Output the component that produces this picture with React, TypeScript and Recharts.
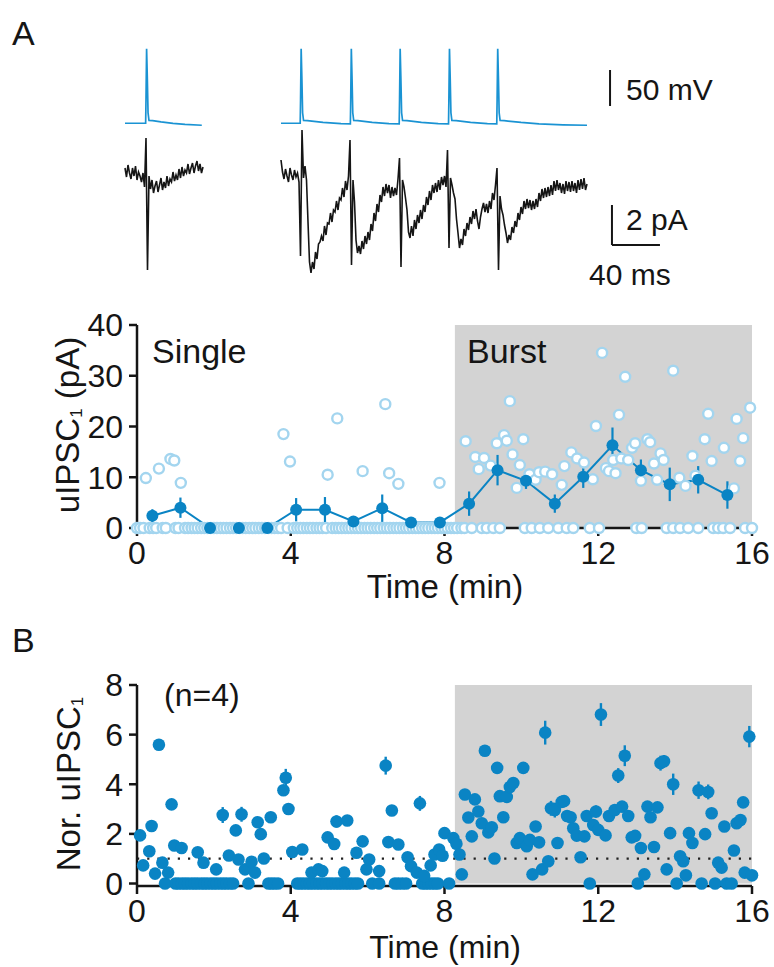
import React from 'react';
import {
  ComposedChart,
  Line,
  Scatter,
  XAxis,
  YAxis,
  ReferenceArea,
  ReferenceLine,
  ErrorBar,
} from 'recharts';

const FONT = '"Liberation Sans", Arial, Helvetica, sans-serif';
const BLUE = '#0a84c4';
const TRACE_BLUE = '#1a93d3';
const LIGHT = '#a3d5ef';
const INK = '#151515';
const SHADE = '#d3d3d3';

// ---------- Panel A: example sweeps ----------
const SAMPLE_MS = 1.25;
const SINGLE_OFFSET_MS = 0;
const BURST_OFFSET_MS = 130;

// presynaptic membrane potential [ms, mV]
const blueSingle: [number, number][] = [
  [0, -62.6], [17.2, -62.6], [17.5, -30], [18.0, 41], [18.6, 0], [19.2, -48], [20.0, -58.8],
  [23, -59], [30, -60.8], [40, -62.8], [50, -64.2], [64, -65.4],
];
const blueBurst: [number, number][] = [
  [0, -62.6], [16.0, -62.6], [16.3, -30], [16.8, 41], [17.4, 0], [18.0, -48], [18.8, -58.8],
  [22, -59], [35, -61.5], [50, -63.2], [57.8, -63.6], [58.1, -30], [58.6, 41], [59.2, 0], [59.8, -48], [60.6, -58.8],
  [64, -59], [76, -61.5], [90, -63.2], [98.5, -63.6], [98.8, -30], [99.3, 41], [99.9, 0], [100.5, -48], [101.3, -58.8],
  [105, -59], [117, -61.5], [131, -63.2], [139.6, -63.6], [139.9, -30], [140.4, 41], [141.0, 0], [141.6, -48], [142.4, -58.8],
  [146, -59], [158, -61.5], [172, -63.2], [179.8, -63.6], [180.1, -30], [180.6, 41], [181.2, 0], [181.8, -48], [182.6, -58.8],
  [186, -59], [200, -61.5], [215, -63.5], [235, -64.8], [255, -65.4],
];

// postsynaptic current, sampled every SAMPLE_MS (pA)
const blackSingle: number[] = [
  0.1, -0.35, 0.25, -0.15, -0.45, 0.1, -0.3, 0.2, -0.5, -0.1, -0.3, -0.6, -0.15, -0.85,
  1.6, -5.0, -0.3, -0.95, -0.5, -1.15, -0.8, -0.55, -1.1, -0.75, -0.4, -1.0, -0.6, -0.9,
  -0.3, -0.8, -0.45, -0.6, -0.1, -0.55, -0.25, -0.5, 0.05, -0.4, 0.15, -0.3, 0.0, -0.15,
  0.3, -0.2, 0.1, 0.35, -0.15, 0.2, 0.45, -0.05, 0.3, -0.15, 0.15,
];
const blackBurst: number[] = [
  0.5, -0.1, -0.45, 0.05, -0.3, -0.6, 0.1, -0.25, -0.5, 0.0, -0.35, -0.15, -0.6, -4.3, 2.0,
  -0.4, 0.2, -0.5, -2.6, -4.6, -5.15, -4.6, -4.95, -4.1, -4.45, -3.7, -3.6, -3.3, -3.55, -2.8,
  -3.25, -2.65, -2.7, -2.15, -2.6, -2.0, -2.1, -1.55, -2.0, -1.4, -1.5, -0.9, -1.35, -0.55, -1.0,
  -0.3, 1.5, -4.75, -0.5, -1.6, -3.5, -4.15, -3.8, -4.2, -3.55, -3.95, -3.3, -3.7, -3.1, -3.5,
  -2.7, -3.05, -2.15, -2.55, -1.7, -2.1, -1.25, -1.6, -0.85, -1.3, -0.7, -1.15, -0.75, -1.4, -0.85,
  -1.3, -0.9, -1.25, -0.45, 0.6, -4.85, -0.5, -0.85, -1.4, -2.0, -3.1, -3.4, -2.8, -3.3, -2.5,
  -2.95, -2.25, -2.65, -2.0, -2.45, -1.75, -2.1, -1.35, -1.75, -1.05, -1.5, -0.75, -1.15, -0.65, -1.1,
  -0.5, -1.0, -0.35, -0.75, -0.3, -0.85, 1.0, -3.9, -0.4, -0.75, -1.15, -1.45, -2.45, -3.15, -3.9,
  -3.45, -3.75, -2.95, -3.3, -2.65, -3.0, -2.35, -2.7, -2.05, -2.45, -1.95, -2.55, -2.95, -2.35, -1.95,
  -1.65, -2.1, -1.7, -2.15, -1.55, -1.95, -1.15, -1.5, -0.75, 0.1, -5.0, -1.3, -1.95, -2.25, -2.75,
  -3.15, -3.65, -3.25, -3.5, -2.85, -3.15, -2.55, -2.85, -2.15, -2.5, -1.85, -2.2, -1.55, -1.95, -1.45,
  -1.9, -1.5, -2.0, -1.55, -1.95, -1.45, -1.85, -1.15, -1.55, -0.95, -1.4, -0.9, -1.35, -0.85, -1.3,
  -0.75, -1.25, -0.55, -1.05, -0.5, -1.0, -0.65, -1.15, -0.7, -1.2, -0.55, -1.05, -0.6, -1.1, -0.55,
  -1.05, -0.65, -1.15, -0.5, -1.0, -0.45, -0.95, -0.4, -1.0, -0.7,
];

// ---------- Panel A: single-cell time course ----------
const BURST_START_MIN = 8.27;
const singleCellNonzero: [number, number][] = [
  [0.23, 9.85], [0.57, 11.7], [0.87, 13.6], [0.97, 13.3], [1.14, 8.9], [3.81, 18.5], [3.98, 13.1],
  [4.96, 10.5], [5.21, 21.6], [5.87, 11.2], [6.46, 24.4], [6.56, 10.8], [6.8, 8.7], [7.87, 8.9],
  [8.55, 17.1], [8.8, 14.0], [8.89, 11.6], [9.03, 13.8], [9.2, 12.3], [9.36, 16.7], [9.55, 18.3],
  [9.62, 17.2], [9.7, 25.0], [9.77, 14.5], [9.88, 7.9], [9.96, 12.4], [10.05, 17.5], [10.21, 10.6],
  [10.37, 9.5], [10.46, 11.0], [10.62, 11.1], [10.8, 10.6], [11.05, 8.5], [11.12, 12.2], [11.3, 14.9],
  [11.45, 13.7], [11.63, 12.9], [11.86, 9.6], [11.94, 20.1], [12.1, 34.5], [12.2, 11.8], [12.28, 11.2],
  [12.39, 13.4], [12.45, 10.8], [12.54, 22.3], [12.6, 13.7], [12.7, 29.8], [12.78, 13.4], [12.88, 15.8],
  [12.96, 16.7], [13.11, 9.3], [13.28, 17.5], [13.35, 16.9], [13.45, 12.7], [13.53, 9.5], [13.62, 14.7],
  [13.7, 13.4], [13.95, 31.0], [14.11, 9.9], [14.27, 8.3], [14.45, 14.2], [14.53, 10.3], [14.77, 17.5],
  [14.86, 22.5], [14.95, 13.2], [15.27, 15.8], [15.53, 7.8], [15.6, 21.5], [15.69, 13.2], [15.77, 17.7],
  [15.95, 23.7],
];
const singleCellZeroTimes: number[] = [
  0.0, 0.08, 0.17, 0.33, 0.42, 0.5, 0.67, 0.75, 1.0, 1.08, 1.25, 1.33, 1.42, 1.5, 1.58, 1.67, 1.75,
  1.83, 1.92, 2.0, 2.08, 2.17, 2.25, 2.33, 2.42, 2.5, 2.58, 2.67, 2.75, 2.83, 2.92, 3.0, 3.08, 3.17,
  3.25, 3.33, 3.42, 3.5, 3.58, 3.67, 3.75, 3.92, 4.08, 4.17, 4.25, 4.33, 4.42, 4.5, 4.58, 4.67, 4.75,
  4.83, 4.92, 5.08, 5.17, 5.25, 5.33, 5.42, 5.5, 5.58, 5.67, 5.75, 5.83, 5.92, 6.0, 6.08, 6.17, 6.25,
  6.33, 6.42, 6.5, 6.58, 6.67, 6.75, 6.83, 6.92, 7.0, 7.08, 7.17, 7.25, 7.33, 7.42, 7.5, 7.58, 7.67,
  7.75, 7.83, 7.92, 8.0, 8.08, 8.17, 8.25, 8.33, 8.44, 8.52, 8.71, 8.97, 9.1, 9.27, 9.44, 10.09, 10.27,
  10.48, 10.7, 10.96, 11.18, 11.35, 11.78, 12.02, 12.99, 13.13, 13.78, 13.95, 14.13, 14.34, 14.6,
  14.99, 15.12, 15.25, 15.43, 15.82, 16.0,
];
const meanTimes: number[] = [0.4, 1.13, 1.9, 2.65, 3.39, 4.14, 4.89, 5.63, 6.38, 7.13, 7.88, 8.64, 9.38, 10.12, 10.87, 11.61, 12.37, 13.11, 13.86, 14.6, 15.36];
const meanValues: number[] = [2.4, 4.0, 0, 0, 0, 3.6, 3.6, 1.3, 3.9, 1.1, 1.1, 4.8, 11.4, 9.3, 4.8, 10.1, 16.3, 11.4, 8.6, 9.5, 6.5];
const meanErrors: number[] = [1.3, 2.0, 0, 0, 0, 2.3, 2.5, 0.5, 2.7, 0.2, 0.2, 2.4, 3.0, 1.6, 1.8, 2.2, 3.5, 2.1, 3.3, 2.7, 2.7];

// ---------- Panel B: normalized (n=4) [time, value, sem] ----------
const normPoints: [number, number, number][] = [
  [0.08, 1.94, 0.1], [0.16, 0.73, 0.1], [0.32, 1.3, 0.1], [0.38, 2.32, 0.1], [0.47, 0.4, 0.1],
  [0.57, 5.59, 0.15], [0.66, 0.84, 0.1], [0.81, 0.44, 0.1], [0.9, 3.19, 0.15], [0.97, 1.53, 0.1],
  [1.16, 1.43, 0.1], [1.58, 1.26, 0.1], [1.73, 0.84, 0.1], [2.06, 0.57, 0.1], [2.23, 2.76, 0.32],
  [2.39, 1.13, 0.1], [2.57, 2.14, 0.1], [2.64, 0.97, 0.1], [2.72, 2.79, 0.3], [2.81, 0.57, 0.1],
  [2.98, 0.88, 0.1], [3.07, 0.44, 0.1], [3.14, 2.47, 0.15], [3.22, 1.99, 0.1], [3.3, 1.01, 0.1],
  [3.48, 2.67, 0.1], [3.81, 3.76, 0.15], [3.87, 4.26, 0.36], [3.94, 3.0, 0.1], [4.04, 1.27, 0.1],
  [4.3, 1.37, 0.1], [4.54, 0.44, 0.1], [4.72, 0.57, 0.1], [4.82, 0.5, 0.1], [4.96, 1.86, 0.1],
  [5.13, 1.59, 0.1], [5.19, 2.5, 0.25], [5.39, 0.44, 0.1], [5.47, 2.54, 0.1], [5.71, 1.24, 0.1],
  [5.87, 1.7, 0.1], [5.97, 0.57, 0.1], [6.04, 0.97, 0.1], [6.3, 0.5, 0.1], [6.47, 4.75, 0.36],
  [6.54, 1.67, 0.1], [6.63, 2.94, 0.1], [6.8, 1.57, 0.1], [7.04, 1.06, 0.1], [7.13, 0.7, 0.1],
  [7.28, 0.44, 0.1], [7.36, 3.23, 0.3], [7.47, 0.31, 0.1], [7.64, 0.73, 0.1], [7.74, 1.17, 0.1],
  [7.86, 1.37, 0.1], [7.95, 1.12, 0.1], [8.0, 2.03, 0.1], [8.23, 1.83, 0.1], [8.31, 1.6, 0.1],
  [8.39, 1.17, 0.1], [8.45, 0.37, 0.1], [8.53, 3.59, 0.1], [8.62, 2.66, 0.1], [8.71, 1.9, 0.1],
  [8.79, 3.39, 0.1], [8.88, 2.9, 0.1], [8.97, 2.43, 0.1], [9.05, 5.35, 0.1], [9.14, 2.06, 0.1],
  [9.23, 2.27, 0.1], [9.3, 1.01, 0.1], [9.37, 4.66, 0.1], [9.44, 3.52, 0.1], [9.53, 2.67, 0.1],
  [9.62, 3.49, 0.1], [9.7, 3.89, 0.1], [9.79, 4.05, 0.1], [9.88, 1.63, 0.1], [9.96, 1.83, 0.1],
  [10.05, 4.66, 0.1], [10.14, 1.5, 0.1], [10.22, 1.76, 0.1], [10.29, 0.37, 0.1], [10.37, 2.3, 0.1],
  [10.46, 1.66, 0.1], [10.54, 0.57, 0.1], [10.62, 6.08, 0.48], [10.7, 0.9, 0.1], [10.77, 3.03, 0.3],
  [10.87, 2.96, 0.3], [10.94, 1.63, 0.1], [11.05, 3.29, 0.1], [11.11, 3.32, 0.1], [11.19, 2.72, 0.1],
  [11.28, 2.67, 0.1], [11.35, 2.23, 0.1], [11.44, 1.93, 0.1], [11.54, 1.06, 0.1], [11.64, 1.9, 0.1],
  [11.7, 2.72, 0.1], [11.87, 2.36, 0.1], [11.94, 2.9, 0.25], [12.0, 2.16, 0.1], [12.07, 6.81, 0.46],
  [12.19, 1.94, 0.1], [12.28, 2.72, 0.1], [12.43, 2.96, 0.1], [12.52, 4.35, 0.3], [12.62, 3.1, 0.1],
  [12.69, 5.15, 0.42], [12.78, 2.72, 0.1], [12.87, 1.86, 0.1], [12.96, 1.92, 0.1], [13.11, 1.43, 0.1],
  [13.2, 0.37, 0.1], [13.28, 3.1, 0.1], [13.36, 2.67, 0.1], [13.45, 1.47, 0.1], [13.54, 3.07, 0.1],
  [13.62, 4.85, 0.3], [13.71, 4.93, 0.25], [13.78, 0.57, 0.1], [13.87, 2.03, 0.1], [13.95, 4.0, 0.43],
  [14.13, 1.1, 0.1], [14.21, 0.9, 0.1], [14.28, 0.33, 0.1], [14.36, 2.03, 0.1], [14.45, 1.63, 0.1],
  [14.61, 3.76, 0.35], [14.78, 1.99, 0.1], [14.86, 3.69, 0.3], [14.95, 2.83, 0.1], [15.12, 0.84, 0.1],
  [15.21, 0.64, 0.1], [15.28, 2.3, 0.1], [15.53, 1.33, 0.1], [15.6, 2.43, 0.1], [15.7, 2.56, 0.2],
  [15.77, 3.27, 0.1], [15.81, 0.44, 0.1], [15.93, 5.92, 0.43], [16.0, 0.33, 0.1],
];
const normZeroTimes: number[] = [
  0.73, 1.0, 1.08, 1.17, 1.25, 1.33, 1.42, 1.5, 1.58, 1.67, 1.75, 1.83, 1.92, 2.0, 2.08, 2.17, 2.25,
  2.33, 2.42, 2.5, 2.9, 3.42, 3.5, 3.58, 3.67, 4.17, 4.25, 4.33, 4.42, 4.5, 4.58, 4.67, 4.75, 4.83,
  4.92, 5.0, 5.08, 5.17, 5.25, 5.33, 5.42, 5.5, 5.58, 5.67, 5.75, 6.12, 6.3, 6.71, 6.8, 6.9, 7.0,
  7.42, 7.5, 7.58, 7.67, 7.75, 7.83, 8.12, 11.78, 13.03, 14.04, 14.69, 15.04, 15.34, 15.47,
];

const timeTicks = [0, 4, 8, 12, 16];
const ticksA = [0, 10, 20, 30, 40];
const ticksB = [0, 2, 4, 6, 8];

// ---------- tables built from the arrays ----------
const tBlueSingle = blueSingle.map(([t, v]) => ({ t: t + SINGLE_OFFSET_MS, v }));
const tBlueBurst = blueBurst.map(([t, v]) => ({ t: t + BURST_OFFSET_MS, v }));
const tBlackSingle = blackSingle.map((v, i) => ({ t: i * SAMPLE_MS + SINGLE_OFFSET_MS, v }));
const tBlackBurst = blackBurst.map((v, i) => ({ t: i * SAMPLE_MS + BURST_OFFSET_MS, v }));

const openData = [
  ...singleCellZeroTimes.map((t) => ({ t, v: 0 })),
  ...singleCellNonzero.map(([t, v]) => ({ t, v })),
];
const meanData = meanTimes.map((t, i) => ({ t, v: meanValues[i], e: meanErrors[i] }));
const normData = [
  ...normZeroTimes.map((t) => ({ t, v: 0, e: 0.1 })),
  ...normPoints.map(([t, v, e]) => ({ t, v, e })),
];

const OpenCircle = (p: any) => (
  <circle cx={p.cx} cy={p.cy} r={5.0} fill="#ffffff" stroke={LIGHT} strokeWidth={2.4} />
);
const FilledCircle = (p: any) => <circle cx={p.cx} cy={p.cy} r={6.3} fill={BLUE} />;

const tickStyle = { fontSize: 32, fill: INK, fontFamily: FONT };
const axisLine = { stroke: INK, strokeWidth: 2.5 };

export default function App() {
  return (
    <div
      style={{
        position: 'absolute',
        left: 0,
        top: 0,
        width: 774,
        height: 967,
        background: '#ffffff',
        fontFamily: FONT,
        overflow: 'hidden',
      }}
    >
      {/* traces */}
      <div style={{ position: 'absolute', left: 0, top: 0 }}>
        <ComposedChart width={774} height={300} margin={{ top: 0, right: 0, bottom: 0, left: 0 }}>
          <XAxis type="number" dataKey="t" domain={[-104.1667, 540.8333]} hide />
          <YAxis yAxisId="mv" type="number" domain={[-308.1, 108.6]} hide />
          <YAxis yAxisId="pa" type="number" domain={[-6.5, 8.5]} hide />
          <Line yAxisId="mv" data={tBlueSingle} dataKey="v" stroke={TRACE_BLUE} strokeWidth={1.7} dot={false} activeDot={false} isAnimationActive={false} type="linear" />
          <Line yAxisId="mv" data={tBlueBurst} dataKey="v" stroke={TRACE_BLUE} strokeWidth={1.7} dot={false} activeDot={false} isAnimationActive={false} type="linear" />
          <Line yAxisId="pa" data={tBlackSingle} dataKey="v" stroke={INK} strokeWidth={1.6} dot={false} activeDot={false} isAnimationActive={false} type="linear" />
          <Line yAxisId="pa" data={tBlackBurst} dataKey="v" stroke={INK} strokeWidth={1.6} dot={false} activeDot={false} isAnimationActive={false} type="linear" />
          <ReferenceLine yAxisId="mv" segment={[{ x: 404.2, y: -38.6 }, { x: 404.2, y: 11.4 }]} stroke={INK} strokeWidth={2} ifOverflow="visible" />
          <ReferenceLine yAxisId="pa" segment={[{ x: 405.8, y: -1.75 }, { x: 405.8, y: -3.75 }]} stroke={INK} strokeWidth={2} ifOverflow="visible" />
          <ReferenceLine yAxisId="pa" segment={[{ x: 405.8, y: -3.75 }, { x: 445.8, y: -3.75 }]} stroke={INK} strokeWidth={2} ifOverflow="visible" />
        </ComposedChart>
      </div>

      {/* panel A time course */}
      <div style={{ position: 'absolute', left: 0, top: 300 }}>
        <ComposedChart width={774} height={320} margin={{ top: 25, right: 22, bottom: 0, left: 0 }}>
          <ReferenceArea x1={BURST_START_MIN} x2={16} y1={0} y2={40} fill={SHADE} fillOpacity={1} stroke="none" ifOverflow="visible" />
          <XAxis type="number" dataKey="t" domain={[0, 16]} ticks={timeTicks} height={92}
            axisLine={axisLine} tickLine={axisLine} tickSize={8} tickMargin={5} tick={tickStyle} interval={0} />
          <YAxis type="number" dataKey="v" domain={[0, 40]} ticks={ticksA} width={137}
            axisLine={axisLine} tickLine={axisLine} tickSize={8} tickMargin={6} tick={tickStyle} interval={0} />
          <Scatter data={openData} dataKey="v" shape={OpenCircle} isAnimationActive={false} />
          <Line data={meanData} dataKey="v" stroke={BLUE} strokeWidth={2} type="linear"
            dot={{ r: 6, fill: BLUE, stroke: 'none' }} activeDot={false} isAnimationActive={false}>
            <ErrorBar dataKey="e" width={0} stroke={BLUE} strokeWidth={2.2} direction="y" />
          </Line>
        </ComposedChart>
      </div>

      {/* panel B */}
      <div style={{ position: 'absolute', left: 0, top: 660 }}>
        <ComposedChart width={774} height={307} margin={{ top: 25, right: 22, bottom: 0, left: 0 }}>
          <ReferenceArea x1={BURST_START_MIN} x2={16} y1={0} y2={8} fill={SHADE} fillOpacity={1} stroke="none" ifOverflow="visible" />
          <ReferenceLine y={1} stroke="#222" strokeWidth={2.2} strokeDasharray="2.2 8" />
          <XAxis type="number" dataKey="t" domain={[0, 16]} ticks={timeTicks} height={81}
            axisLine={axisLine} tickLine={axisLine} tickSize={8} tickMargin={5} tick={tickStyle} interval={0} />
          <YAxis type="number" dataKey="v" domain={[0, 8]} ticks={ticksB} width={137}
            axisLine={axisLine} tickLine={axisLine} tickSize={8} tickMargin={6} tick={tickStyle} interval={0} />
          <Scatter data={normData} dataKey="v" shape={FilledCircle} isAnimationActive={false}>
            <ErrorBar dataKey="e" width={0} stroke={BLUE} strokeWidth={2.4} direction="y" />
          </Scatter>
        </ComposedChart>
      </div>

      {/* text annotations */}
      <svg width={774} height={967} style={{ position: 'absolute', left: 0, top: 0, pointerEvents: 'none' }}
        fontFamily={FONT} fill={INK}>
        <text x={12} y={45} fontSize={34}>A</text>
        <text x={626} y={100} fontSize={30}>50 mV</text>
        <text x={626} y={230} fontSize={30}>2 pA</text>
        <text x={589} y={285} fontSize={30}>40 ms</text>
        <text x={152} y={363} fontSize={34}>Single</text>
        <text x={467} y={363} fontSize={34}>Burst</text>
        <text x={79} y={425} fontSize={33} textAnchor="middle" transform="rotate(-90 79 425)">
          uIPSC<tspan fontSize={17} dy={3}>1</tspan>
          <tspan dy={-3}>{' (pA)'}</tspan>
        </text>
        <text x={445} y={598} fontSize={33} textAnchor="middle">Time (min)</text>
        <text x={12} y={652} fontSize={34}>B</text>
        <text x={164} y={706} fontSize={32}>(n=4)</text>
        <text x={80} y={784} fontSize={33} textAnchor="middle" transform="rotate(-90 80 784)">
          Nor. uIPSC<tspan fontSize={17} dy={3}>1</tspan>
        </text>
        <text x={445} y={958} fontSize={32} textAnchor="middle">Time (min)</text>
      </svg>
    </div>
  );
}
